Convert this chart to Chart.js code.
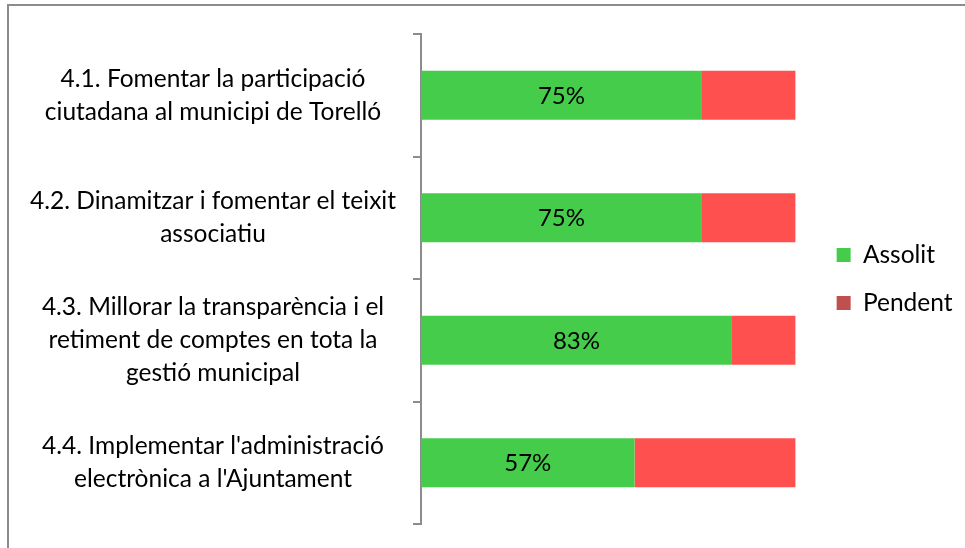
<!DOCTYPE html>
<html>
<head>
<meta charset="utf-8">
<script src="https://cdn.jsdelivr.net/npm/chart.js@4"></script>
<style>
    body { margin: 0; background: #fff; overflow: hidden; }
    .frame {
        position: absolute; left: 7px; top: 4px; width: 1200px; height: 800px;
        border-left: 2px solid #8c8c8c; border-top: 2px solid #8c8c8c;
    }
    .wrap { position: absolute; left: 0; top: 0; width: 965px; height: 548px; }
</style>
</head>
<body>
<div class="frame"></div>
<div class="wrap"><canvas id="chart"></canvas></div>
<script>
// Dades del gràfic
const categories = [
    ['4.1. Fomentar la participació', 'ciutadana al municipi de Torelló'],
    ['4.2. Dinamitzar i fomentar el teixit', 'associatiu'],
    ['4.3. Millorar la transparència i el', 'retiment de comptes en tota la', 'gestió municipal'],
    ['4.4. Implementar l\'administració', 'electrònica a l\'Ajuntament']
];
const assolit = [75, 75, 83, 57];
const pendent = [25, 25, 17, 43];
const seriesNames = ['Assolit', 'Pendent'];
const barColors = ['#46cc4b', '#ff5050'];
const legendColors = ['#46cc4b', '#c0504d'];

const FONT = 'Lato, "Noto Sans", sans-serif';

// Etiquetes de percentatge dins la barra verda
const valueLabels = {
    id: 'valueLabels',
    afterDatasetsDraw(chart) {
        const ctx = chart.ctx;
        const meta = chart.getDatasetMeta(0);
        ctx.save();
        ctx.font = '24px ' + FONT;
        ctx.fillStyle = '#000';
        ctx.textAlign = 'center';
        ctx.textBaseline = 'middle';
        meta.data.forEach((bar, i) => {
            const p = bar.getProps(['x', 'y', 'base'], true);
            ctx.fillText(assolit[i] + '%', (p.x + p.base) / 2, p.y + 1);
        });
        ctx.restore();
    }
};

const ctx = document.getElementById('chart').getContext('2d');
new Chart(ctx, {
    type: 'bar',
    data: {
        labels: categories,
        datasets: [
            { label: seriesNames[0], data: assolit, backgroundColor: barColors[0], barPercentage: 0.5, categoryPercentage: 0.8 },
            { label: seriesNames[1], data: pendent, backgroundColor: barColors[1], barPercentage: 0.5, categoryPercentage: 0.8 }
        ]
    },
    options: {
        indexAxis: 'y',
        responsive: true,
        maintainAspectRatio: false,
        animation: false,
        layout: { padding: { left: 10, right: 2.5, top: 34, bottom: 24 } },
        plugins: {
            tooltip: { enabled: false },
            legend: {
                position: 'right',
                labels: {
                    boxWidth: 14,
                    boxHeight: 14,
                    padding: 23.5,
                    color: '#000',
                    font: { family: FONT, size: 24.5 },
                    generateLabels(chart) {
                        const items = Chart.defaults.plugins.legend.labels.generateLabels(chart);
                        items.forEach((it, i) => { it.fillStyle = legendColors[i]; it.strokeStyle = legendColors[i]; it.lineWidth = 0; });
                        return items;
                    }
                }
            }
        },
        scales: {
            x: {
                stacked: true,
                min: 0,
                max: 100,
                display: false
            },
            y: {
                stacked: true,
                afterFit(scale) {
                    scale.width = 411;
                    scale.paddingTop = 0;
                    scale.paddingBottom = 0;
                },
                border: { color: '#8c8c8c', width: 2 },
                grid: { drawOnChartArea: false, drawTicks: true, tickLength: 8, color: '#8c8c8c', lineWidth: 2 },
                ticks: {
                    crossAlign: 'center',
                    padding: 17,
                    color: '#000',
                    font: { family: FONT, size: 24.5, lineHeight: 1.35 }
                }
            },
            gap: {
                type: 'linear',
                position: 'right',
                display: true,
                afterFit(scale) { scale.width = 17.5; },
                border: { display: false },
                grid: { display: false },
                ticks: { display: false }
            }
        }
    },
    plugins: [valueLabels]
});
</script>
</body>
</html>
